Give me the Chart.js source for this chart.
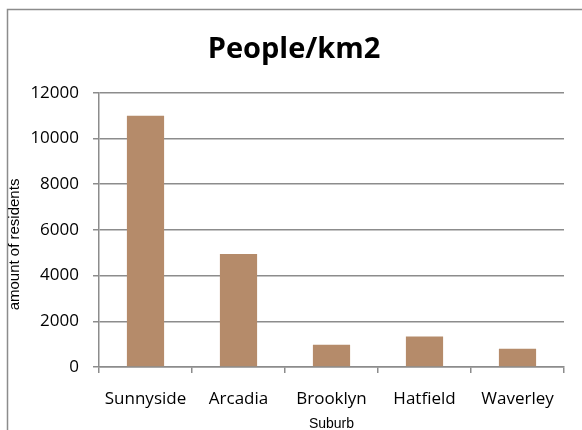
<!DOCTYPE html>
<html>
<head>
  <title>People/km2</title>
  <script src="https://cdn.jsdelivr.net/npm/chart.js"></script>
  <style>
    body { margin: 0; background: #fff; }
  </style>
</head>
<body>
  <canvas id="densityChart" width="582" height="430"></canvas>

  <script>
    const suburbs = ['Sunnyside', 'Arcadia', 'Brooklyn', 'Hatfield', 'Waverley'];
    const residents = [11000, 4950, 970, 1330, 800];
    const yTicks = [0, 2000, 4000, 6000, 8000, 10000, 12000];

    // grey frame round the chart, cut off at right and bottom like the original
    const frame = {
      id: 'frame',
      beforeDraw(chart) {
        const ctx = chart.ctx;
        ctx.save();
        ctx.fillStyle = '#fff';
        ctx.fillRect(0, 0, chart.width, chart.height);
        ctx.strokeStyle = '#8c8c8c';
        ctx.lineWidth = 1.5;
        ctx.strokeRect(7.5, 9.5, 700, 600);
        ctx.restore();
      }
    };

    new Chart(document.getElementById('densityChart'), {
      type: 'bar',
      data: {
        labels: suburbs,
        datasets: [{
          label: 'People/km2',
          data: residents,
          backgroundColor: '#b58b6a',
          barPercentage: 0.4,
          categoryPercentage: 1
        }]
      },
      options: {
        responsive: false,
        animation: false,
        layout: { padding: { left: 6, right: 0, top: 0, bottom: -3 } },
        plugins: {
          legend: { display: false },
          tooltip: { enabled: false },
          title: {
            display: true,
            text: 'People/km2',
            color: '#000',
            font: { family: 'Open Sans', size: 29, weight: 'bold' },
            padding: { top: 32, bottom: 26 }
          }
        },
        scales: {
          x: {
            afterFit: s => { s.height = 66; },
            grid: {
              drawOnChartArea: false,
              color: '#8c8c8c',
              lineWidth: 1.5,
              tickLength: 6
            },
            border: { color: '#8c8c8c', width: 1.5 },
            ticks: {
              color: '#000',
              font: { family: 'Open Sans', size: 17 },
              padding: 16
            },
            title: {
              display: true,
              text: 'Suburb',
              color: '#000',
              font: { family: 'Liberation Sans', size: 14 },
              padding: { top: 0, bottom: 0 }
            }
          },
          y: {
            min: 0,
            max: 12000,
            afterFit: s => { s.width = 93; },
            afterBuildTicks: s => { s.ticks = yTicks.map(v => ({ value: v })); },
            grid: {
              color: '#8c8c8c',
              lineWidth: 1.5,
              tickLength: 6
            },
            border: { color: '#8c8c8c', width: 1.5 },
            ticks: {
              color: '#000',
              font: { family: 'Open Sans', size: 17 },
              padding: 14,
              callback: v => String(v)
            },
            title: {
              display: true,
              // trailing spaces push the label a bit lower, as in the original
              text: 'amount of residents       ',
              color: '#000',
              font: { family: 'Liberation Sans', size: 15 },
              padding: { top: 0, bottom: 0 }
            }
          },
          // empty right-hand axis, only there to leave the gap right of the plot
          yRight: {
            position: 'right',
            afterFit: s => { s.width = 18; },
            grid: { display: false },
            border: { display: false },
            ticks: { display: false }
          }
        }
      },
      plugins: [frame]
    });
  </script>
</body>
</html>
